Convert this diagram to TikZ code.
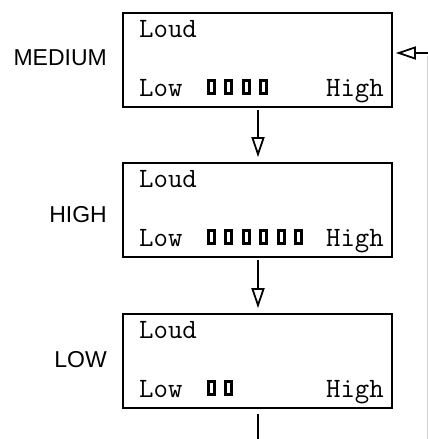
\documentclass[tikz,border=0pt]{standalone}
\usepackage{fontspec}
\setmainfont{Liberation Sans}
\usetikzlibrary{arrows.meta}
\tikzset{
  panel/.style={draw, line width=1.7pt, minimum width=269pt, minimum height=94pt, inner sep=0pt},
  lbl/.style={anchor=east, inner sep=0pt, font=\fontsize{23}{23}\selectfont},
  mono/.style={inner sep=0pt, font=\ttfamily\fontsize{28}{28}\selectfont},
  seg/.style={draw, line width=3pt, minimum width=6pt, minimum height=13pt, inner sep=0pt, anchor=south west},
  flow/.style={line width=1.8pt, -{Triangle[open, length=20pt, width=13pt, line width=1.8pt]}},
}
\begin{document}
\begin{tikzpicture}[x=1pt, y=-1pt]
\useasboundingbox (0,0) rectangle (428,439);
% panels
\node[panel] (p1) at (257.5,60) {};
\node[panel] (p2) at (257.5,210) {};
\node[panel] (p3) at (257.5,361) {};
% side labels
\node[lbl] (l1) at (107,58) {MEDIUM};
\node[lbl] (l2) at (107,215) {HIGH};
\node[lbl] (l3) at (107,360) {LOW};
% panel 1 text
\node[mono, anchor=base west] (t1a) at (139,37) {Loud};
\node[mono, anchor=base west] (t1b) at (139,96) {Low};
\node[mono, anchor=base east] (t1c) at (384,96) {High};
\foreach \i in {0,...,3} \node[seg] (s1\i) at (206.5+17.5*\i,94.5) {};
% panel 2 text
\node[mono, anchor=base west] (t2a) at (139,187) {Loud};
\node[mono, anchor=base west] (t2b) at (139,246) {Low};
\node[mono, anchor=base east] (t2c) at (384,246) {High};
\foreach \i in {0,...,5} \node[seg] (s2\i) at (206.5+17.5*\i,244.5) {};
% panel 3 text
\node[mono, anchor=base west] (t3a) at (139,338) {Loud};
\node[mono, anchor=base west] (t3b) at (139,397) {Low};
\node[mono, anchor=base east] (t3c) at (384,397) {High};
\foreach \i in {0,...,1} \node[seg] (s3\i) at (206.5+17.5*\i,395.5) {};
% connectors
\coordinate (rin) at (428,53);
\coordinate (rtop) at (427,56);
\coordinate (rdown) at (427,439);
\coordinate (bot) at (258,439);
\draw[gray!35, line width=0.8pt] (rtop) -- (rdown);
\draw[flow] (rin) -- ([xshift=3pt]p1.east |- rin);
\draw[flow] ([yshift=-2pt]p1.south -| bot) -- ([yshift=5pt]p2.north -| bot);
\draw[flow] ([yshift=-2pt]p2.south -| bot) -- ([yshift=5pt]p3.north -| bot);
\draw[line width=1.8pt] ([yshift=-5pt]p3.south -| bot) -- (bot);
\end{tikzpicture}
\end{document}
